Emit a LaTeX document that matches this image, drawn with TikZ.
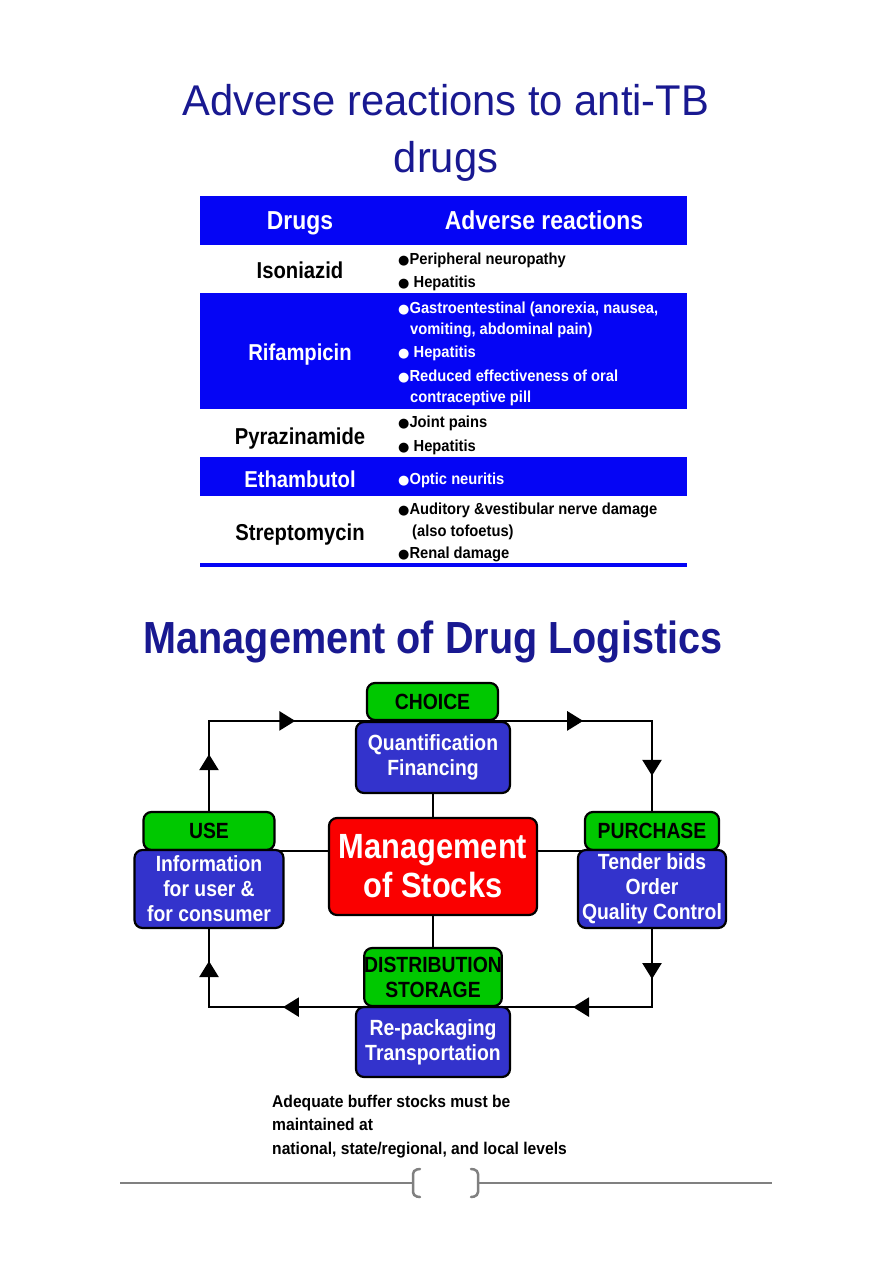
\documentclass[tikz,border=0pt]{standalone}
\usepackage{fontspec}
\setmainfont{Liberation Sans}
\newfontfamily\nf[FakeStretch=0.88]{Liberation Sans}
\newfontfamily\nfw[FakeStretch=0.92]{Liberation Sans}
\newfontfamily\tf[FakeStretch=0.97]{Liberation Sans}
\newfontfamily\dv{DejaVu Sans}
\usetikzlibrary{arrows.meta,decorations.markings}
\definecolor{navy}{RGB}{25,25,145}
\definecolor{tblue}{RGB}{5,5,245}
\definecolor{bblue}{RGB}{51,51,204}
\definecolor{bgreen}{RGB}{0,200,0}
\definecolor{bred}{RGB}{250,0,0}
\definecolor{fgray}{RGB}{128,128,128}
\pgfdeclarelayer{bg}
\pgfsetlayers{bg,main}
\newcommand\bul{{\dv\fontsize{13}{13}\selectfont ●}}
\tikzset{
 fbox/.style={draw=black,line width=2.2pt,rounded corners=8pt,inner sep=0pt,align=center,font=\nf\bfseries\fontsize{22}{25}\selectfont},
 bluebox/.style={fbox,fill=bblue,text=white},
 greenbox/.style={fbox,fill=bgreen,text=black},
 conn/.style={draw=black,line width=2.6pt,line join=miter},
 ma/.style={conn,postaction={decorate},decoration={markings,mark=at position #1 with {\arrow{Triangle[length=16pt,width=19pt]}}}},
 drug/.style={font=\nf\bfseries\fontsize{23}{26}\selectfont,anchor=base,inner sep=0pt},
 hdr/.style={font=\nf\bfseries\fontsize{26}{28}\selectfont,anchor=base,inner sep=0pt,text=white},
 item/.style={font=\nfw\bfseries\fontsize{16}{18}\selectfont,anchor=base west,inner sep=0pt},
 note/.style={font=\nfw\bfseries\fontsize{17}{20}\selectfont,anchor=base west,inner sep=0pt},
 ttl/.style={anchor=base,inner sep=0pt,text=navy,font=\tf\fontsize{43}{48}\selectfont},
}
\begin{document}
\begin{tikzpicture}[x=1pt,y=-1pt]
\begin{pgfonlayer}{bg}
\fill[white] (0,0) rectangle (893,1263);
\end{pgfonlayer}
\useasboundingbox (0,0) rectangle (893,1263);

% titles
\node[ttl] (t1) at (446,115) {Adverse reactions to anti-TB};
\node[ttl] (t2) at (446,172) {drugs};

% table
\fill[tblue] (200,196) rectangle (687,245);
\fill[tblue] (200,293) rectangle (687,409);
\fill[tblue] (200,457) rectangle (687,496);
\draw[tblue,line width=3.5pt] (200,565) -- (687,565);

\node[hdr] (hD) at (300,229) {Drugs};
\node[hdr] (hA) at (544,229) {Adverse reactions};

\node[drug] (d1) at (300,278) {Isoniazid};
\node[drug,text=white] (d2) at (300,360) {Rifampicin};
\node[drug] (d3) at (300,444) {Pyrazinamide};
\node[drug,text=white] (d4) at (300,487) {Ethambutol};
\node[drug] (d5) at (300,540) {Streptomycin};

\node[item] (i1) at (398,264) {\bul Peripheral neuropathy};
\node[item] (i2) at (398,287) {\bul{} Hepatitis};
\node[item,text=white] (i3) at (398,313) {\bul Gastroentestinal (anorexia, nausea,};
\node[item,text=white] (i4) at (410,334) {vomiting, abdominal pain)};
\node[item,text=white] (i5) at (398,357) {\bul{} Hepatitis};
\node[item,text=white] (i6) at (398,381) {\bul Reduced effectiveness of oral};
\node[item,text=white] (i7) at (410,402) {contraceptive pill};
\node[item] (i8) at (398,427) {\bul Joint pains};
\node[item] (i9) at (398,451) {\bul{} Hepatitis};
\node[item,text=white] (i10) at (398,484) {\bul Optic neuritis};
\node[item] (i11) at (398,514) {\bul Auditory \&vestibular nerve damage};
\node[item] (i12) at (412,536) {(also tofoetus)};
\node[item] (i13) at (398,558) {\bul Renal damage};

% second title
\node[anchor=base,inner sep=0pt,text=navy,font=\nf\bfseries\fontsize{45}{50}\selectfont] (t3) at (433,653) {Management of Drug Logistics};

% flow boxes
\node[greenbox,minimum width=131,minimum height=37] (choice) at (432.5,701.5) {CHOICE};
\node[bluebox,minimum width=154,minimum height=71] (quant) at (433,757.5) {Quantification\\Financing};
\node[greenbox,minimum width=131,minimum height=38] (use) at (209,831) {USE};
\node[bluebox,minimum width=149,minimum height=78] (info) at (209,889) {Information\\for user \&\\for consumer};
\node[greenbox,minimum width=134,minimum height=38] (purchase) at (652,831) {PURCHASE};
\node[bluebox,minimum width=148,minimum height=78] (tender) at (652,889) {Tender bids\\Order\\Quality Control};
\node[fbox,fill=bred,text=white,minimum width=208,minimum height=97,font=\nf\bfseries\fontsize{35}{39}\selectfont] (mgmt) at (433,866.5) {Management\\of Stocks};
\node[greenbox,minimum width=136,minimum height=58] (dist) at (433,977) {DISTRIBUTION\\STORAGE};
\node[bluebox,minimum width=154,minimum height=70] (repack) at (433,1042) {Re-packaging\\Transportation};

\begin{pgfonlayer}{bg}
\coordinate (tl) at (use.north |- quant.north);
\coordinate (tr) at (purchase.north |- quant.north);
\coordinate (bl) at (info.south |- dist.south);
\coordinate (br) at (tender.south |- dist.south);
\draw[conn] (use.north) -- (tl) -- (tr) -- (purchase.north);
\draw[conn] (tender.south) -- (br) -- (bl) -- (info.south);
\draw[ma=0.63] (use.north) -- (tl);
\draw[ma=0.55] (tl) -- (choice.west |- tl);
\draw[ma=0.55] (choice.east |- tl) -- (tr);
\draw[ma=0.61] (tr) -- (purchase.north);
\draw[ma=0.64] (tender.south) -- (br);
\draw[ma=0.53] (br) -- (dist.east |- br);
\draw[ma=0.52] (dist.west |- bl) -- (bl);
\draw[ma=0.59] (bl) -- (info.south);
\draw[conn] (quant.south) -- (mgmt.north);
\draw[conn] (mgmt.south) -- (dist.north);
\draw[conn] (use.south east) -- (mgmt.west |- use.south);
\draw[conn] (mgmt.east |- purchase.south) -- (purchase.south west);
\end{pgfonlayer}

% note
\node[note] (n1) at (272,1107) {Adequate buffer stocks must be};
\node[note] (n2) at (272,1130) {maintained at};
\node[note] (n3) at (272,1154) {national, state/regional, and local levels};

% footer
\coordinate (fl) at (120,1183);
\coordinate (fr) at (772,1183);
\draw[fgray,line width=2pt] (fl) -- (412,1183);
\draw[fgray,line width=2pt] (479,1183) -- (fr);
\draw[fgray,line width=2.5pt,rounded corners=4pt,line cap=round] (420,1169) -- (413,1170) -- (413,1196) -- (420,1197);
\draw[fgray,line width=2.5pt,rounded corners=4pt,line cap=round] (471,1169) -- (478,1170) -- (478,1196) -- (471,1197);
\end{tikzpicture}
\end{document}
